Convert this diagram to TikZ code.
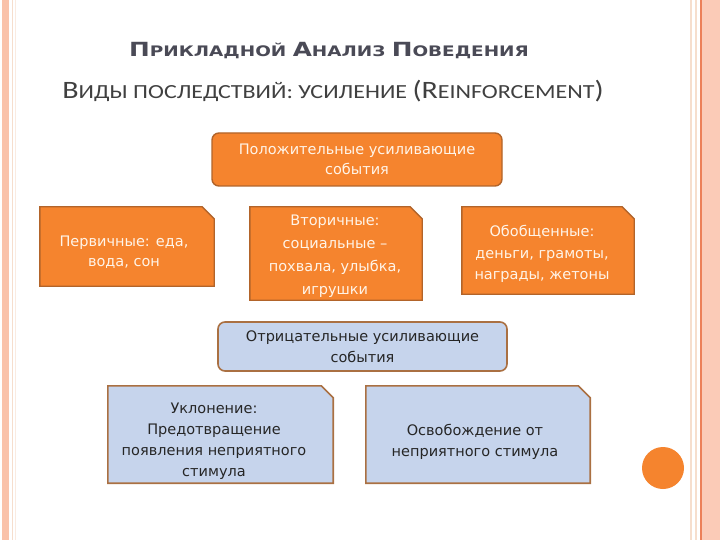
\documentclass[tikz,border=0pt]{standalone}
\usepackage{fontspec}
\setmainfont{Carlito}
\newfontfamily\boxfont{DejaVu Sans}
\newfontfamily\ttlfont{DejaVu Sans}
\definecolor{org}{RGB}{245,132,46}
\definecolor{orgborder}{RGB}{178,100,42}
\definecolor{bluefill}{RGB}{198,212,236}
\definecolor{blueborder}{RGB}{170,112,66}
\definecolor{salmon}{RGB}{250,194,170}
\definecolor{salmonline}{RGB}{236,128,88}
\definecolor{paleline}{RGB}{246,222,205}
\definecolor{titlegray}{RGB}{74,74,86}
\definecolor{subgray}{RGB}{64,64,64}
\definecolor{cream}{RGB}{255,244,232}
\newcommand\tBig[1]{{\fontsize{19.5}{19.5}\selectfont #1}}
\newcommand\sBig[1]{{\fontsize{25}{25}\selectfont #1}}
\newcommand\chamf[3]{\path[#1] (#2.south west) -- (#2.north west) -- ([xshift=-#3]#2.north east) -- ([yshift=-#3]#2.north east) -- (#2.south east) -- cycle;}
\begin{document}
\begin{tikzpicture}[x=1pt,y=-1pt,
  obox/.style={draw=orgborder, line width=1.4pt, fill=org, text=cream, align=center,
    font=\boxfont\fontsize{14.5}{20}\selectfont, inner sep=0pt},
  orbox/.style={obox, rounded corners=7pt},
  oshape/.style={draw=orgborder, line width=1.4pt, fill=org},
  otext/.style={text=cream, align=center, inner sep=0pt},
  bshape/.style={draw=blueborder, line width=1.6pt, fill=bluefill},
  frame/.style={draw=none, fill=none, inner sep=0pt},
  bbox/.style={draw=blueborder, line width=1.6pt, fill=bluefill, text=black!85, align=center,
    font=\boxfont\fontsize{14.5}{21}\selectfont, inner sep=0pt},
  brbox/.style={bbox, rounded corners=7pt},
  btext/.style={text=black!85, align=center, font=\boxfont\fontsize{14.5}{21}\selectfont, inner sep=0pt}
]
\useasboundingbox (0,0) rectangle (720,540);
\fill[white] (0,0) rectangle (720,540);
% side bands
\fill[salmon] (2,0) rectangle (9,540);
\draw[paleline, line width=1pt] (12,0) -- (12,540);
\draw[paleline!60, line width=1pt] (15,0) -- (15,540);
\draw[paleline, line width=1.2pt] (691,0) -- (691,540);
\draw[paleline, line width=1.2pt] (696,0) -- (696,540);
\fill[salmon!85] (700,0) rectangle (720,540);
\draw[salmonline, line width=1.2pt] (701,0) -- (701,540);
% titles
\node[anchor=base, text=titlegray, inner sep=0pt] (title) at (329,57)
  {\scalebox{1.27}[1]{\ttlfont\bfseries\fontsize{14.5}{15}\selectfont
   \tBig{П}РИКЛАДНОЙ \tBig{А}НАЛИЗ \tBig{П}ОВЕДЕНИЯ}};
\node[anchor=base, text=subgray, inner sep=0pt] (subtitle) at (333,99)
  {\scalebox{1.2}[1]{\fontsize{20}{20}\selectfont \sBig{В}ИДЫ ПОСЛЕДСТВИЙ: УСИЛЕНИЕ \sBig{(R}EINFORCEMENT\sBig{)}}};
% positive
\node[orbox, minimum width=290, minimum height=53] (pos) at (357,159.5)
  {Положительные усиливающие\\события};
\node[frame, minimum width=174, minimum height=79] (prim) at (127,246.5) {};
\chamf{oshape}{prim}{12pt}
\node[otext, font=\boxfont\fontsize{14.5}{20}\selectfont] (primt) at (124,252) {Первичные: еда,\\вода, сон};
\node[frame, minimum width=172, minimum height=93] (sec) at (336,253.5) {};
\chamf{oshape}{sec}{12pt}
\node[otext, font=\boxfont\fontsize{14.5}{23}\selectfont] (sect) at (335,256)
  {Вторичные:\\социальные –\\похвала, улыбка,\\игрушки};
\node[frame, minimum width=172, minimum height=87] (gen) at (548,250.5) {};
\chamf{oshape}{gen}{12pt}
\node[otext, font=\boxfont\fontsize{14.5}{21.5}\selectfont] (gent) at (542,254)
  {Обобщенные:\\деньги, грамоты,\\награды, жетоны};
% negative
\node[brbox, minimum width=289, minimum height=49] (neg) at (362.5,346.5)
  {Отрицательные усиливающие\\события};
\node[frame, minimum width=225, minimum height=97] (avoid) at (220.5,434.5) {};
\chamf{bshape}{avoid}{12pt}
\node[btext] (avoidt) at (214,441)
  {Уклонение:\\Предотвращение\\появления неприятного\\стимула};
\node[frame, minimum width=224, minimum height=97] (esc) at (478,434.5) {};
\chamf{bshape}{esc}{12pt}
\node[btext] (esct) at (475,442) {Освобождение от\\неприятного стимула};
% dot
\node[circle, fill=org, minimum size=42, inner sep=0pt] (dot) at (663,468) {};
\end{tikzpicture}
\end{document}
